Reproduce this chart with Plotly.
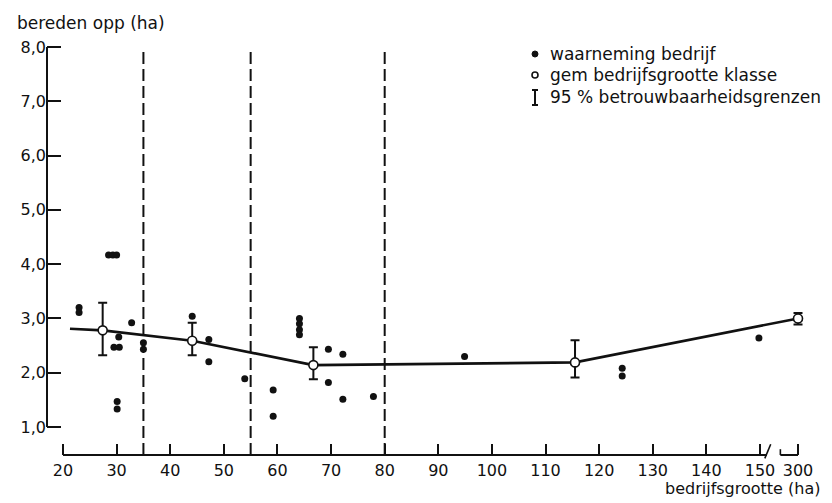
import plotly.graph_objects as go

# Individual farms: size (ha) and grazed area (ha)
obs_size = [23, 23, 28.5, 29.3, 30.0, 29.5, 30.5, 30.4, 30.1, 30.1, 32.8, 35, 35,
            44.1, 47.2, 47.2, 53.9, 59.2, 59.2, 64.1, 64.1, 64.1, 64.1, 69.5, 69.5,
            72.2, 72.2, 77.9, 94.9, 124.3, 124.3, 149.8]
obs_area = [3.20, 3.11, 4.17, 4.17, 4.17, 2.47, 2.47, 2.66, 1.47, 1.33, 2.92, 2.55, 2.43,
            3.04, 2.61, 2.20, 1.89, 1.68, 1.20, 3.00, 2.90, 2.79, 2.70, 2.43, 1.82,
            2.34, 1.51, 1.56, 2.30, 2.08, 1.94, 2.64]

# Size classes: mean farm size, mean grazed area and 95% confidence limits
class_size = [27.4, 44.1, 66.7, 115.5, 300]
class_area = [2.78, 2.59, 2.14, 2.19, 3.00]
class_upper = [3.29, 2.92, 2.47, 2.60, 3.10]
class_lower = [2.32, 2.32, 1.88, 1.91, 2.89]

# Trend line through the class means
trend_size = [21.3, 27.4, 44.1, 66.7, 115.5, 300]
trend_area = [2.81, 2.78, 2.59, 2.14, 2.19, 3.00]

# Class boundaries (ha)
class_bounds = [35, 55, 80]

x_tick_values = [20, 30, 40, 50, 60, 70, 80, 90, 100, 110, 120, 130, 140, 150, 300]
y_tick_values = [1, 2, 3, 4, 5, 6, 7, 8]

# Broken x axis: everything above 150 ha is squeezed into a short stretch
BREAK_AT = 150
BREAK_SCALE = 7.09 / 150


def axis_pos(v):
    return v if v <= BREAK_AT else BREAK_AT + (v - BREAK_AT) * BREAK_SCALE


W, H = 832, 503
ML, MR, MT, MB = 47, 20, 40, 48
PW, PH = W - ML - MR, H - MT - MB
X_RANGE = [17.016, 159.70]
Y_RANGE = [0.4843, 8.1289]
FONT = "DejaVu Sans"
INK = "#111111"


def paper(px, py):
    return (px - ML) / PW, (H - MB - py) / PH


def y_paper(v):
    return (v - Y_RANGE[0]) / (Y_RANGE[1] - Y_RANGE[0])


fig = go.Figure()

fig.add_trace(go.Scatter(
    x=[axis_pos(v) for v in trend_size], y=trend_area, mode="lines",
    line=dict(color=INK, width=2.6), hoverinfo="skip", showlegend=False))

fig.add_trace(go.Scatter(
    x=[axis_pos(v) for v in class_size], y=class_area, mode="markers",
    marker=dict(symbol="circle", size=9, color="white", line=dict(color=INK, width=1.6)),
    error_y=dict(type="data", symmetric=False,
                 array=[u - m for u, m in zip(class_upper, class_area)],
                 arrayminus=[m - l for m, l in zip(class_area, class_lower)],
                 color=INK, thickness=2, width=4.5),
    showlegend=False))

fig.add_trace(go.Scatter(
    x=[axis_pos(v) for v in obs_size], y=obs_area, mode="markers",
    marker=dict(symbol="circle", size=7, color=INK), showlegend=False))

shapes = []
# left axis line, 1,0 to 8,0
shapes.append(dict(type="line", xref="paper", yref="y", x0=0, x1=0, y0=1, y1=8,
                   line=dict(color=INK, width=2)))
# bottom axis line with a break between 150 and 300
shapes.append(dict(type="line", xref="x", yref="paper", x0=20, x1=151.3, y0=0, y1=0,
                   line=dict(color=INK, width=2)))
shapes.append(dict(type="line", xref="x", yref="paper", x0=153.8, x1=axis_pos(300),
                   y0=0, y1=0, line=dict(color=INK, width=2)))
shapes.append(dict(type="line", xref="x", yref="paper", x0=150.9, x1=152.0,
                   y0=-0.008, y1=0.026, line=dict(color=INK, width=1.6)))
shapes.append(dict(type="line", xref="x", yref="paper", x0=153.8, x1=153.8,
                   y0=0, y1=0.014, line=dict(color=INK, width=1.6)))
# dashed class boundaries
for b in class_bounds:
    shapes.append(dict(type="line", xref="x", yref="paper", x0=b, x1=b,
                       y0=0, y1=y_paper(8.0),
                       line=dict(color=INK, width=2, dash="12px,5px")))

# legend symbols
lx = 535
cx, cy = paper(lx, 54)
shapes.append(dict(type="circle", xref="paper", yref="paper", xsizemode="pixel",
                   ysizemode="pixel", xanchor=cx, yanchor=cy, x0=-3, x1=3, y0=-3, y1=3,
                   fillcolor=INK, line=dict(color=INK, width=1)))
cx, cy = paper(lx, 75)
shapes.append(dict(type="circle", xref="paper", yref="paper", xsizemode="pixel",
                   ysizemode="pixel", xanchor=cx, yanchor=cy, x0=-3, x1=3, y0=-3, y1=3,
                   fillcolor="white", line=dict(color=INK, width=1.6)))
x0p, ytop = paper(lx, 90)
_, ybot = paper(lx, 105)
shapes.append(dict(type="line", xref="paper", yref="paper", x0=x0p, x1=x0p,
                   y0=ybot, y1=ytop, line=dict(color=INK, width=2)))
for yy in (ytop, ybot):
    xa, _ = paper(lx - 3, 0)
    xb, _ = paper(lx + 3, 0)
    shapes.append(dict(type="line", xref="paper", yref="paper", x0=xa, x1=xb,
                       y0=yy, y1=yy, line=dict(color=INK, width=2)))

annotations = []


def add_text(text, px, py, anchor="left", size=17):
    ax, ay = paper(px, py)
    annotations.append(dict(text=text, xref="paper", yref="paper", x=ax, y=ay,
                            xanchor=anchor, yanchor="middle", showarrow=False,
                            font=dict(family=FONT, size=size, color=INK)))


add_text("bereden opp (ha)", 15, 23)
add_text("bedrijfsgrootte (ha)", 822, 488, anchor="right", size=16)
add_text("waarneming bedrijf", 548, 54)
add_text("gem bedrijfsgrootte klasse", 548, 75)
add_text("95 % betrouwbaarheidsgrenzen", 548, 97)

fig.update_layout(
    width=W, height=H,
    margin=dict(l=ML, r=MR, t=MT, b=MB, pad=0),
    paper_bgcolor="white", plot_bgcolor="white",
    separators=", ",
    font=dict(family=FONT, size=16, color=INK),
    shapes=shapes, annotations=annotations,
    xaxis=dict(range=X_RANGE, showgrid=False, zeroline=False, showline=False,
               tickmode="array",
               tickvals=[axis_pos(v) for v in x_tick_values],
               ticktext=[str(v) for v in x_tick_values],
               ticks="inside", ticklen=11, tickwidth=2, tickcolor=INK,
               ticklabelstandoff=4,
               tickfont=dict(family=FONT, size=16, color=INK)),
    yaxis=dict(range=Y_RANGE, showgrid=False, zeroline=False, showline=False,
               tickmode="array", tickvals=y_tick_values, tickformat=".1f",
               ticks="inside", ticklen=14, tickwidth=2, tickcolor=INK,
               tickfont=dict(family=FONT, size=16, color=INK)),
)

fig.write_html("out.html")
